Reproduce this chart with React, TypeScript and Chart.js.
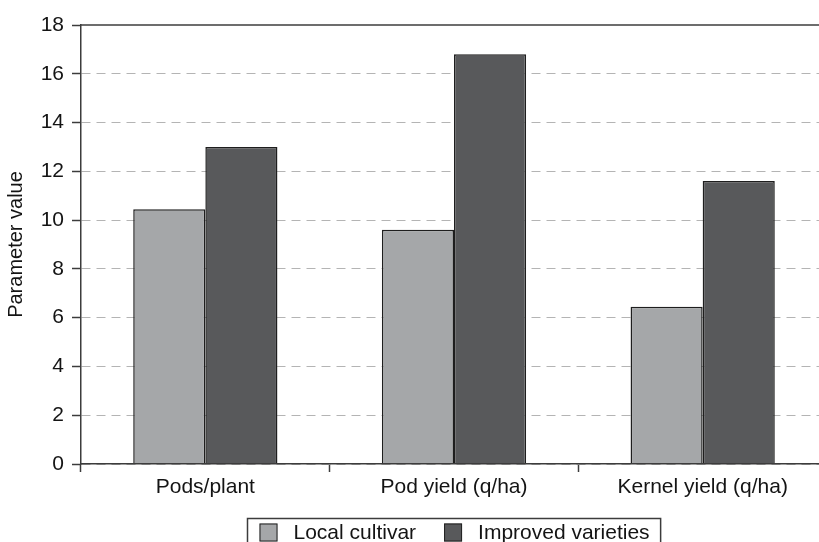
import React, { useEffect, useRef } from 'react';
import { Chart, registerables } from 'chart.js';

Chart.register(...registerables);

// Categories and series values
const categories = ['Pods/plant', 'Pod yield (q/ha)', 'Kernel yield (q/ha)'];
const seriesNames = ['Local cultivar', 'Improved varieties'];
const localCultivar = [10.45, 9.6, 6.45];
const improvedVarieties = [13.0, 16.8, 11.6];

// Value axis
const yMin = 0;
const yMax = 18;
const yStep = 2;
const yTitle = 'Parameter value';

const FONT = '"Liberation Sans", Arial, Helvetica, sans-serif';
const TEXT = '#141414';
const AXIS = '#3c3c3c';
const LIGHT = '#a5a7a9';
const DARK = '#58595b';

// Solid frame line along the top of the plot
const frameTop = {
  id: 'frameTop',
  afterDatasetsDraw(chart: any) {
    const { ctx, chartArea } = chart;
    ctx.save();
    ctx.strokeStyle = AXIS;
    ctx.lineWidth = 1.5;
    ctx.beginPath();
    ctx.moveTo(chartArea.left, chartArea.top);
    ctx.lineTo(chartArea.right, chartArea.top);
    ctx.stroke();
    ctx.restore();
  },
};

// Boxed legend centred under the plot
const boxLegend = {
  id: 'boxLegend',
  afterDraw(chart: any) {
    const { ctx, chartArea } = chart;
    const ds = chart.data.datasets;
    ctx.save();
    ctx.font = `21px ${FONT}`;
    const padL = 12;
    const padR = 11;
    const sq = 18;
    const gap = 16;
    const itemGap = 28;
    const widths = ds.map((d: any) => ctx.measureText(d.label).width);
    const total =
      padL + padR + widths.reduce((s: number, w: number) => s + sq + gap + w, 0) + itemGap * (ds.length - 1);
    const cx = (chartArea.left + chartArea.right) / 2;
    const left = Math.round(cx - total / 2) + 0.5;
    const top = chart.height - 23.5;
    ctx.strokeStyle = AXIS;
    ctx.lineWidth = 1.5;
    ctx.strokeRect(left, top, total, 40);
    let x = left + padL;
    const sqTop = top + 5;
    ds.forEach((d: any, i: number) => {
      ctx.fillStyle = d.backgroundColor;
      ctx.fillRect(x, sqTop, sq, sq);
      ctx.strokeStyle = '#222';
      ctx.lineWidth = 1;
      ctx.strokeRect(x + 0.5, sqTop + 0.5, sq - 1, sq - 1);
      x += sq + gap;
      ctx.fillStyle = TEXT;
      ctx.textBaseline = 'middle';
      ctx.textAlign = 'left';
      ctx.fillText(d.label, x, sqTop + sq / 2 + 1);
      x += widths[i] + itemGap;
    });
    ctx.restore();
  },
};

export default function App() {
  const canvasRef = useRef<HTMLCanvasElement | null>(null);

  useEffect(() => {
    const canvas = canvasRef.current;
    if (!canvas) return;
    const chart = new Chart(canvas, {
      type: 'bar',
      data: {
        labels: categories,
        datasets: [
          {
            label: seriesNames[0],
            data: localCultivar,
            backgroundColor: LIGHT,
            borderColor: '#1e1e1e',
            borderWidth: 1.5,
            categoryPercentage: 0.58,
            barPercentage: 1.0,
          },
          {
            label: seriesNames[1],
            data: improvedVarieties,
            backgroundColor: DARK,
            borderColor: '#1e1e1e',
            borderWidth: 1.5,
            categoryPercentage: 0.58,
            barPercentage: 1.0,
          },
        ],
      },
      options: {
        animation: false,
        responsive: true,
        maintainAspectRatio: false,
        layout: { padding: { left: 0, top: 25, right: 5, bottom: 0 } },
        plugins: {
          legend: { display: false },
          tooltip: { enabled: false },
        },
        scales: {
          x: {
            grid: {
              display: true,
              drawOnChartArea: false,
              drawTicks: true,
              tickLength: 8,
              tickColor: AXIS,
              tickWidth: 1.5,
            },
            border: { display: true, color: AXIS, width: 1.5, z: 1 },
            ticks: {
              color: TEXT,
              font: { family: FONT, size: 21 },
              padding: 3,
              maxRotation: 0,
            },
            afterFit(scale: any) {
              scale.height = 78;
            },
          },
          y: {
            min: yMin,
            max: yMax,
            grid: {
              color: (c: any) => (c.tick && c.tick.value === yMax ? 'rgba(0,0,0,0)' : '#b4b4b4'),
              lineWidth: 1,
              drawTicks: true,
              tickLength: 9,
              tickColor: AXIS,
              tickWidth: 1.5,
            },
            border: { display: true, color: AXIS, width: 1.5, dash: [9, 6] },
            ticks: {
              stepSize: yStep,
              color: TEXT,
              font: { family: FONT, size: 21 },
              padding: 8,
            },
            title: {
              display: true,
              text: yTitle,
              color: TEXT,
              font: { family: FONT, size: 20 },
              padding: { top: 4, bottom: 0 },
            },
            afterFit(scale: any) {
              scale.width = 81;
            },
          },
        },
      },
      plugins: [frameTop, boxLegend],
    });
    return () => chart.destroy();
  }, []);

  return (
    <div
      style={{
        position: 'absolute',
        left: 0,
        top: 0,
        width: 819,
        height: 542,
        overflow: 'hidden',
        background: '#fff',
      }}
    >
      <div style={{ position: 'relative', width: 832, height: 542 }}>
        <canvas ref={canvasRef} />
      </div>
    </div>
  );
}
